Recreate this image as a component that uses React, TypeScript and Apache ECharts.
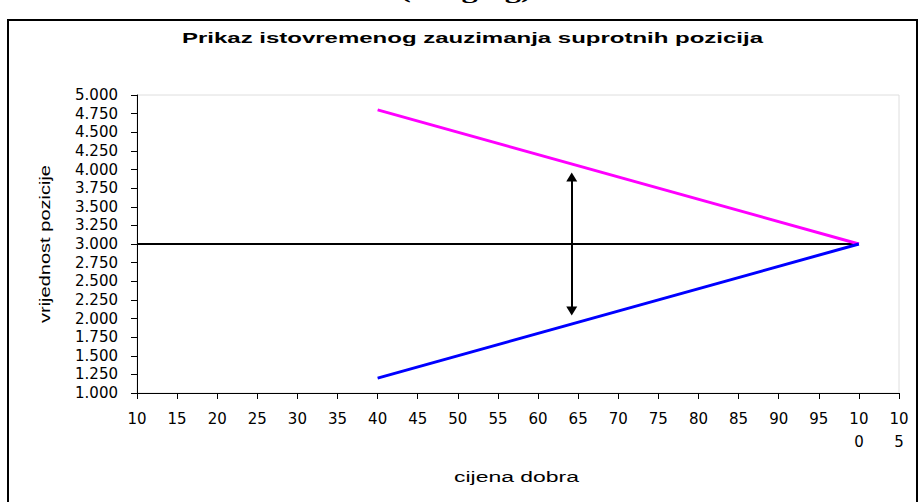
import React, { useEffect, useRef } from "react";
import * as echarts from "echarts";

// ---- data ----
const priceRange = [10, 105];
const priceStep = 5;
const valueRange = [1, 5];
const valueStep = 0.25;

const longX = [40, 100];
const longY = [4.8, 3.0]; // magenta
const shortX = [40, 100];
const shortY = [1.2, 3.0]; // blue
const baseX = [10, 100];
const baseY = [3.0, 3.0]; // black reference line
const arrowX = [64.2, 64.2];
const arrowY = [2.1, 3.9];

const titleText = "Prikaz istovremenog zauzimanja suprotnih pozicija";
const xName = "cijena dobra";
const yName = "vrijednost pozicije";
const topCut = "(hedging)";

function textWidth(text: string, font: string): number {
  const c = document.createElement("canvas").getContext("2d");
  if (!c) return text.length * 8;
  c.font = font;
  return c.measureText(text).width;
}

const pairs = (xs: number[], ys: number[]) => xs.map((x, i) => [x, ys[i]]);

export default function App() {
  const ref = useRef<HTMLDivElement>(null);

  useEffect(() => {
    if (!ref.current) return;
    const chart = echarts.init(ref.current, undefined, { renderer: "svg" });

    const titleFont = 'bold 15px "Liberation Sans"';
    const nameFont = '15px "Liberation Sans"';
    const cutFont = 'bold 20px "Liberation Serif"';
    const titleScale = 581 / textWidth(titleText, titleFont);
    const xNameScale = 125 / textWidth(xName, nameFont);
    const yNameScale = 158 / textWidth(yName, nameFont);
    const cutScale = 132 / textWidth(topCut, cutFont);

    const option: any = {
      animation: false,
      backgroundColor: "#ffffff",
      grid: {
        left: 137,
        right: 21,
        top: 95,
        bottom: 109,
        show: true,
        borderColor: "#dedede",
        borderWidth: 1,
        backgroundColor: "transparent",
      },
      xAxis: {
        type: "value",
        min: priceRange[0],
        max: priceRange[1],
        interval: priceStep,
        axisLine: { show: true, onZero: false, lineStyle: { color: "#000", width: 1 } },
        axisTick: { show: true, length: 6, lineStyle: { color: "#000", width: 1 } },
        splitLine: { show: false },
        axisLabel: {
          color: "#000",
          fontFamily: "DejaVu Sans",
          fontSize: 15,
          lineHeight: 23,
          margin: 14,
          showMinLabel: true,
          showMaxLabel: true,
          formatter: (v: number) => {
            const s = String(v);
            return s.length > 2 ? s.slice(0, 2) + "\n" + s.slice(2) : s;
          },
        },
      },
      yAxis: {
        type: "value",
        min: valueRange[0],
        max: valueRange[1],
        interval: valueStep,
        axisLine: { show: true, onZero: false, lineStyle: { color: "#000", width: 1 } },
        axisTick: { show: true, length: 6, lineStyle: { color: "#000", width: 1 } },
        splitLine: { show: false },
        axisLabel: {
          color: "#000",
          fontFamily: "DejaVu Sans",
          fontSize: 15,
          margin: 19,
          formatter: (v: number) => v.toFixed(3),
        },
      },
      series: [
        {
          name: "baseline",
          type: "line",
          data: pairs(baseX, baseY),
          symbol: "none",
          lineStyle: { color: "#000000", width: 2 },
          z: 1,
        },
        {
          name: "long",
          type: "line",
          data: pairs(longX, longY),
          symbol: "none",
          lineStyle: { color: "#ff00ff", width: 3 },
          z: 2,
        },
        {
          name: "short",
          type: "line",
          data: pairs(shortX, shortY),
          symbol: "none",
          lineStyle: { color: "#0000ff", width: 3 },
          z: 2,
        },
        {
          name: "arrow",
          type: "line",
          data: pairs(arrowX, arrowY),
          symbol: "none",
          lineStyle: { opacity: 0 },
          markLine: {
            silent: true,
            animation: false,
            symbol: ["triangle", "triangle"],
            symbolSize: [11, 9],
            label: { show: false },
            lineStyle: { color: "#000", width: 2, type: "solid" },
            itemStyle: { color: "#000" },
            data: [
              [
                { coord: [arrowX[0], arrowY[0]] },
                { coord: [arrowX[1], arrowY[1]] },
              ],
            ],
          },
          z: 3,
        },
      ],
      graphic: [
        {
          type: "rect",
          shape: { x: 8, y: 20, width: 909, height: 500 },
          style: { fill: "none", stroke: "#000", lineWidth: 2 },
          silent: true,
          z: 0,
        },
        {
          type: "text",
          x: 466 - 66,
          y: -9,
          scaleX: cutScale,
          style: {
            text: topCut,
            fontFamily: "Liberation Serif",
            fontWeight: "bold",
            fontSize: 20,
            fill: "#000",
            align: "left",
            verticalAlign: "middle",
          },
        },
        {
          type: "text",
          x: 182,
          y: 38,
          scaleX: titleScale,
          style: {
            text: titleText,
            fontFamily: "Liberation Sans",
            fontWeight: "bold",
            fontSize: 15,
            fill: "#000",
            align: "left",
            verticalAlign: "middle",
          },
        },
        {
          type: "text",
          x: 454,
          y: 477,
          scaleX: xNameScale,
          style: {
            text: xName,
            fontFamily: "Liberation Sans",
            fontSize: 15,
            fill: "#000",
            align: "left",
            verticalAlign: "middle",
          },
        },
        {
          type: "text",
          x: 45,
          y: 244,
          rotation: Math.PI / 2,
          scaleX: yNameScale,
          style: {
            text: yName,
            fontFamily: "Liberation Sans",
            fontSize: 15,
            fill: "#000",
            align: "center",
            verticalAlign: "middle",
          },
        },
      ],
    };

    chart.setOption(option);
    return () => chart.dispose();
  }, []);

  return (
    <div
      ref={ref}
      style={{ position: "absolute", left: 0, top: 0, width: 920, height: 502, background: "#fff" }}
    />
  );
}
